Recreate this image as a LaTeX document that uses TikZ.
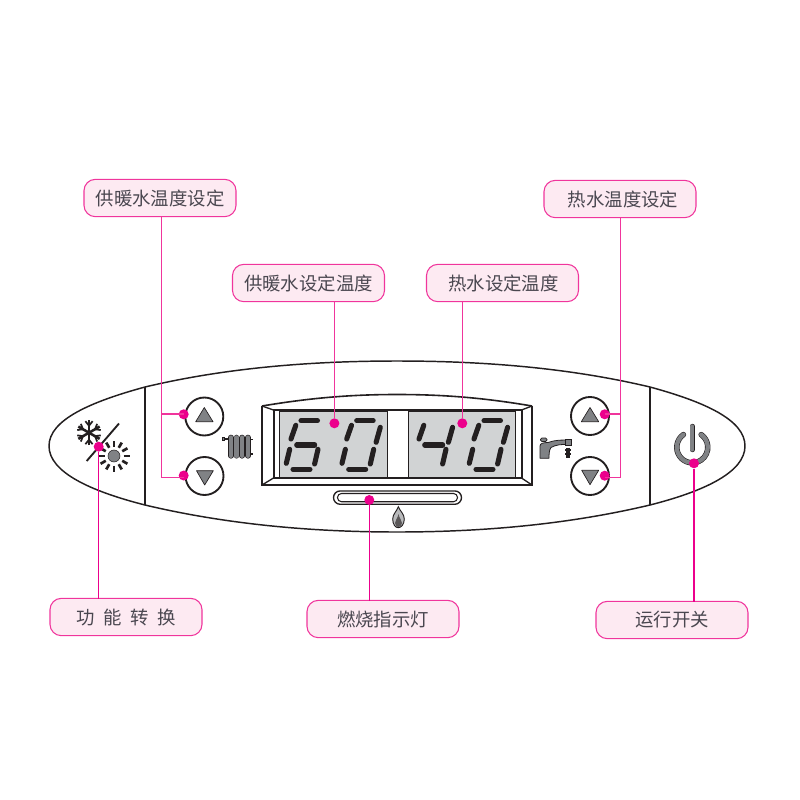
\documentclass[tikz,border=0pt]{standalone}
\usepackage{fontspec}
\setmainfont{Noto Sans CJK SC}
\definecolor{pinkline}{HTML}{F0359C}
\definecolor{pinkdot}{HTML}{EC008C}
\definecolor{boxfill}{HTML}{FDEAF2}
\definecolor{ink}{HTML}{231F20}
\definecolor{midgray}{HTML}{808285}
\definecolor{lcd}{HTML}{D1D3D4}
\definecolor{txt}{HTML}{4A4750}
\tikzset{
  label box/.style={draw=pinkline,fill=boxfill,rounded corners=8.5pt,line width=.8pt,minimum width=114pt,minimum height=28pt,inner sep=0pt,text=txt,font=\fontsize{13.8}{14}\selectfont},
  panel/.style={draw=ink,line width=1pt},
  thick panel/.style={draw=ink,line width=1.5pt},
  round key/.style={circle,draw=ink,line width=1.4pt,fill=white,minimum size=28.5pt,inner sep=0pt},
  tri/.style={fill=midgray,draw=ink,line width=.5pt,line join=round},
  seg/.style={draw=ink,line width=3.8pt,line cap=round},
  lead/.style={draw=pinkline,line width=1.05pt},
  lead low/.style={draw=pinkdot,line width=1.05pt},
  dot/.style={circle,fill=pinkdot,minimum size=7.5pt,inner sep=0pt},
  outlined/.style={draw=ink,line width=.45pt,double=midgray,line cap=round},
}
\newcommand{\segA}{\draw[seg] (15,-48.6) -- (31.5,-48.6);}
\newcommand{\segB}{\draw[seg] (38.6,-42) -- (34.4,-27);}
\newcommand{\segC}{\draw[seg] (32,-20) -- (28.6,-5.3);}
\newcommand{\segD}{\draw[seg] (7,0) -- (24,0);}
\newcommand{\segE}{\draw[seg] (3.7,-20) -- (.3,-6);}
\newcommand{\segF}{\draw[seg] (9.8,-44) -- (5,-30.3);}
\newcommand{\segG}{\draw[seg] (10.7,-24.3) -- (28.7,-24.3);}
\begin{document}
\begin{tikzpicture}[x=.75pt,y=-.75pt]
\useasboundingbox (0,0) rectangle (800,800);
% outer body
\draw[panel,line width=1.1pt,fill=white] (145,387) .. controls (225,368) and (310,361) .. (397,361) .. controls (485,361) and (570,368) .. (650,387)
  .. controls (705,402) and (745,420) .. (745,446) .. controls (745,472) and (705,491) .. (650,505)
  .. controls (570,524) and (485,532) .. (397,532) .. controls (310,532) and (225,524) .. (145,505)
  .. controls (90,491) and (49,472) .. (49,446) .. controls (49,420) and (90,402) .. (145,387) -- cycle;
\draw[thick panel] (145,387) -- (145,505);
\draw[thick panel] (650,387) -- (650,505);
% display
\draw[panel,line width=1.2pt] (262,406) .. controls (310,398) and (350,394.5) .. (397,394.5) .. controls (445,394.5) and (485,398) .. (532,406);
\draw[panel,line width=1.3pt] (262,406) -- (262,485) -- (532,485) -- (532,406);
\draw[panel,line width=1.5pt] (273.5,410) rectangle (521.5,478);
\draw[panel,line width=1pt] (262,406) -- (273.5,410) (532,406) -- (521.5,410) (262,485) -- (273.5,478) (532,485) -- (521.5,478);
\draw[ink,fill=lcd,line width=.7pt] (279,411.5) rectangle (387,477);
\draw[ink,fill=lcd,line width=.7pt] (408,411.5) rectangle (515,477);
% digits
\begin{scope}[shift={(286,469.3)}]\segA\segC\segD\segE\segF\segG\end{scope}
\begin{scope}[shift={(341.7,469.3)}]\segA\segB\segC\segD\segE\segF\end{scope}
\begin{scope}[shift={(414,469.3)}]\segB\segC\segF\segG\end{scope}
\begin{scope}[shift={(469,469.3)}]\segA\segB\segC\segD\segE\segF\end{scope}
% flame strip
\node[draw=ink,line width=1pt,rounded corners=5pt,minimum width=96pt,minimum height=10pt,inner sep=0pt] (strip) at (397.5,497.6) {};
\node[draw=ink,line width=.8pt,rounded corners=3pt,minimum width=90pt,minimum height=6.2pt,inner sep=0pt] (stripin) at (397.5,497.6) {};
\draw[ink,fill=midgray!55,line width=.7pt] (398.3,506.7) .. controls (397,511) and (392.7,514) .. (392.7,519) .. controls (392.7,524.5) and (395.5,527.7) .. (398.3,527.7) .. controls (401,527.7) and (404.3,524.5) .. (404.3,519) .. controls (404.3,514) and (400,511) .. (398.3,506.7) -- cycle;
\fill[ink!75] (398.5,514) .. controls (398,518) and (395,520) .. (395,523) .. controls (395,526) and (397,527) .. (398.3,527) .. controls (400,527) and (402,526) .. (402,523) .. controls (402,520) and (399,518) .. (398.5,514) -- cycle;
% keys
\node[round key] (kul) at (204.3,416.5) {};
\node[round key] (kdl) at (204.5,476) {};
\node[round key] (kur) at (590,416) {};
\node[round key] (kdr) at (590,476) {};
\draw[tri] (195.7,421.7) -- (204.3,407.5) -- (213,421.7) -- cycle;
\draw[tri] (196.5,470.7) -- (213.3,470.7) -- (204.7,485) -- cycle;
\draw[tri] (581.3,421.7) -- (590,407.5) -- (598.7,421.7) -- cycle;
\draw[tri] (581.7,470.3) -- (598.7,470.3) -- (590,484.7) -- cycle;
% radiator
\draw[ink,line width=1pt] (222.7,439) -- (228,439) (250,439.5) -- (253,439.5) (250,454) -- (253,454);
\draw[ink,fill=midgray,line width=.7pt] (222.7,437.5) rectangle (224.5,440.5);
\foreach \x in {230.9,236.5,242.2,247.9}
  \draw[outlined,double distance=3.3pt] (\x,437.5) -- (\x,455.8);
% tap
\draw[ink,fill=midgray,line width=.6pt,line join=round] (540,458.3) -- (540,446) .. controls (540,443.5) and (543,442.5) .. (548,442.5) .. controls (555,440) and (563,439.5) .. (570,440.5) -- (570,445) .. controls (563,443.5) and (555,445) .. (551,447.5) .. controls (549,450) and (549,455) .. (549,458.3) -- cycle;
\draw[ink,fill=midgray,line width=.6pt,rounded corners=1pt] (540.5,438) rectangle (547,441.5);
\draw[ink,fill=midgray,line width=.6pt] (565.5,439.5) rectangle (571.5,445.5);
\draw[ink,line width=2.8pt] (568,447.5) -- (568,457.5);
\draw[ink,line width=1.1pt] (565,450) -- (571,450) (565,454) -- (571,454);
% snow / sun
\begin{scope}[shift={(89,432.7)}]
\foreach \a in {30,90,150}{
  \draw[ink,line width=1.9pt,rotate=\a] (-12.3,0) -- (12.3,0);
  \foreach \s in {1,-1}
    \draw[ink,line width=1.3pt,rotate=\a,xscale=\s] (7,0) -- (11.5,-3.6) (7,0) -- (11.5,3.6);
}
\end{scope}
\draw[ink,line width=1.4pt] (86.7,461) -- (119,423.5);
\node[circle,fill=midgray,draw=ink,line width=.4pt,minimum size=9pt,inner sep=0pt] (sun) at (114,456) {};
\foreach \a in {0,30,...,330}
  \draw[ink,line width=2pt] (sun.center) ++(\a:9.5) -- ++(\a:6);
% power
\draw[outlined,double distance=3.2pt] (683.4,434.6) arc[start angle=235,end angle=-55,radius=15.5];
\draw[outlined,double distance=3.2pt] (692.3,426.5) -- (692.3,449.5);
% labels
\node[label box] (l1) at (160,198) {供暖水温度设定};
\node[label box] (l2) at (620,199) {\hspace{4.5pt}热水温度设定};
\node[label box] (l3) at (308.5,283) {供暖水设定温度};
\node[label box] (l4) at (502.5,283) {\hspace{1.5pt}热水设定温度};
\node[label box] (l5) at (126,617) {\spaceskip=6.6pt\relax 功 能 转 换};
\node[label box] (l6) at (383,619) {燃烧指示灯};
\node[label box] (l7) at (672,620) {运行开关};
% leaders
\coordinate (a1) at (161.7,414); \coordinate (a2) at (161.7,477.3);
\coordinate (a3) at (620.7,414); \coordinate (a4) at (620.7,477.3);
\node[dot] (d1) at (183.7,414.3) {};
\node[dot] (d2) at (183.7,475.5) {};
\node[dot] (d3) at (604.7,414.3) {};
\node[dot] (d4) at (604.7,475.7) {};
\node[dot] (d5) at (334.4,423.3) {};
\node[dot] (d6) at (462.3,423.3) {};
\node[dot] (d7) at (98.7,446.7) {};
\node[dot] (d8) at (369.3,500) {};
\node[dot] (d9) at (694,463.3) {};
\draw[lead] (161.7,216) -- (a1) -- (d1 |- a1);
\draw[lead] (a1) -- (a2) -- (d2 |- a2);
\draw[lead] (620.7,217) -- (a3) -- (d3 |- a3);
\draw[lead] (a3) -- (a4) -- (d4 |- a4);
\draw[lead] (334.4,301) -- (d5);
\draw[lead] (462.3,301) -- (d6);
\draw[lead low] (d7) -- (98.7,599);
\draw[lead low] (d8) -- (369.3,601);
\draw[lead low] (d9) -- (694,602);
\end{tikzpicture}
\end{document}
